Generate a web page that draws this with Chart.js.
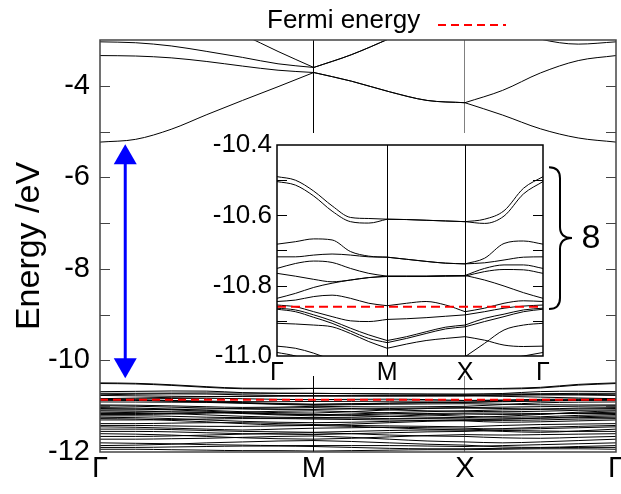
<!DOCTYPE html>
<html>
<head>
<meta charset="utf-8">
<title>Band structure</title>
<script src="https://cdn.jsdelivr.net/npm/chart.js@4.4.1/dist/chart.umd.min.js"></script>
<style>
  html, body { margin: 0; padding: 0; background: #fff; }
  #wrap { position: relative; width: 621px; height: 494px; overflow: hidden; }
  canvas { position: absolute; }
  #main { left: 0; top: 0; }
  #zoomBg { position: absolute; left: 200px; top: 133px; width: 348px; height: 243px; background: #fff; }
  #zoom { left: 198px; top: 118px; }
</style>
</head>
<body>
<div id="wrap">
  <canvas id="main" width="621" height="494"></canvas>
  <div id="zoomBg"></div>
  <canvas id="zoom" width="423" height="275"></canvas>
</div>
<script>
const FONT = "'Liberation Sans', Arial, Helvetica, sans-serif";

// path G-M-X-G, k in units of pi/a (|GM| = sqrt 2)
const pathLabels = ['Γ', 'M', 'X', 'Γ'];
const pathTicks = [0, 1.414, 2.414, 3.414];
const kMesh = [0, 0.236, 0.471, 0.707, 0.943, 1.178, 1.414,
               1.664, 1.914, 2.164, 2.414,
               2.664, 2.914, 3.164, 3.414];
// index ranges of the three path segments in kMesh
const segments = [[0, 6], [6, 10], [10, 14]];

const fermiLevel = -10.86;
const gapK = 0.167, gapTop = -5.28, gapBottom = -10.39;
const braceTop = -10.463, braceBottom = -10.866, braceCount = '8';

// unoccupied bands (eV)
const conductionBands = [
  [-5.23, -5.17, -4.95, -4.63, -4.32, -4.02, -3.71, -3.90, -4.13, -4.32, -4.37, -4.64, -4.94, -5.14, -5.23],
  [-3.34, -3.35, -3.39, -3.47, -3.57, -3.66, -3.71, -3.90, -4.13, -4.32, -4.37, -4.10, -3.72, -3.45, -3.34],
  [-3.04, -3.06, -3.13, -3.25, -3.38, -3.52, -3.60, -3.32, -2.97, -2.60, -2.40, -2.70, -2.98, -3.09, -3.04],
  [-1.80, -2.00, -2.25, -2.55, -2.88, -3.25, -3.60, -3.32, -2.97, -2.60, -2.40, -2.30, -2.10, -1.90, -1.80]
];

// top of the valence manifold, around E_F
const valenceTop = [
  [-10.490, -10.500, -10.531, -10.573, -10.606, -10.609, -10.611, -10.612, -10.614, -10.616, -10.618, -10.611, -10.587, -10.523, -10.490],
  [-10.504, -10.514, -10.545, -10.588, -10.618, -10.622, -10.611, -10.612, -10.614, -10.616, -10.618, -10.623, -10.602, -10.539, -10.504],
  [-10.682, -10.675, -10.667, -10.670, -10.703, -10.716, -10.719, -10.725, -10.731, -10.736, -10.738, -10.722, -10.680, -10.673, -10.682],
  [-10.718, -10.718, -10.713, -10.710, -10.713, -10.718, -10.719, -10.725, -10.731, -10.736, -10.738, -10.735, -10.727, -10.719, -10.718],
  [-10.751, -10.737, -10.730, -10.734, -10.751, -10.765, -10.773, -10.773, -10.773, -10.772, -10.771, -10.751, -10.741, -10.741, -10.751],
  [-10.765, -10.773, -10.782, -10.789, -10.784, -10.777, -10.773, -10.773, -10.773, -10.772, -10.771, -10.784, -10.801, -10.820, -10.836],
  [-10.836, -10.822, -10.805, -10.793, -10.784, -10.777, -10.774, -10.774, -10.774, -10.773, -10.773, -10.760, -10.754, -10.755, -10.765],
  [-10.845, -10.841, -10.831, -10.827, -10.836, -10.850, -10.857, -10.850, -10.845, -10.855, -10.874, -10.864, -10.850, -10.843, -10.845],
  [-10.855, -10.860, -10.874, -10.888, -10.900, -10.902, -10.896, -10.894, -10.891, -10.887, -10.883, -10.874, -10.864, -10.858, -10.855],
  [-10.864, -10.869, -10.883, -10.900, -10.921, -10.940, -10.956, -10.945, -10.931, -10.918, -10.912, -10.893, -10.881, -10.869, -10.864],
  [-10.867, -10.874, -10.890, -10.907, -10.929, -10.950, -10.962, -10.950, -10.936, -10.923, -10.917, -10.902, -10.888, -10.874, -10.867],
  [-10.907, -10.909, -10.912, -10.917, -10.936, -10.959, -10.978, -10.966, -10.956, -10.950, -10.945, -10.955, -10.969, -10.973, -10.972],
  [-10.972, -10.978, -10.992, -11.011, -11.026, -11.021, -11.002, -11.011, -11.016, -11.011, -11.002, -10.964, -10.926, -10.912, -10.907]
];

// deeper valence bands
const valenceDeep = [
  [-10.99, -11.00, -11.02, -11.04, -11.06, -11.07, -11.07, -11.06, -11.05, -11.04, -11.03, -11.02, -11.01, -11.00, -10.99],
  [-11.03, -11.04, -11.06, -11.09, -11.12, -11.14, -11.15, -11.12, -11.08, -11.05, -11.04, -11.05, -11.06, -11.04, -11.03],
  [-11.05, -11.06, -11.08, -11.11, -11.14, -11.17, -11.19, -11.17, -11.14, -11.12, -11.10, -11.08, -11.07, -11.06, -11.05],
  [-11.08, -11.08, -11.07, -11.06, -11.05, -11.04, -11.03, -11.05, -11.08, -11.10, -11.11, -11.12, -11.11, -11.09, -11.08],
  [-11.10, -11.11, -11.12, -11.13, -11.15, -11.17, -11.18, -11.20, -11.22, -11.24, -11.25, -11.22, -11.18, -11.13, -11.10],
  [-11.13, -11.14, -11.16, -11.19, -11.22, -11.24, -11.25, -11.24, -11.22, -11.19, -11.17, -11.18, -11.17, -11.15, -11.13],
  [-11.16, -11.16, -11.15, -11.14, -11.16, -11.19, -11.21, -11.19, -11.17, -11.16, -11.15, -11.15, -11.16, -11.16, -11.16],
  [-11.18, -11.18, -11.17, -11.15, -11.13, -11.11, -11.10, -11.12, -11.15, -11.19, -11.22, -11.24, -11.23, -11.20, -11.18],
  [-11.21, -11.21, -11.22, -11.24, -11.25, -11.26, -11.26, -11.26, -11.27, -11.27, -11.28, -11.28, -11.26, -11.23, -11.21],
  [-11.24, -11.25, -11.27, -11.30, -11.33, -11.35, -11.36, -11.35, -11.33, -11.31, -11.30, -11.28, -11.26, -11.25, -11.24],
  [-11.27, -11.28, -11.31, -11.34, -11.38, -11.41, -11.42, -11.39, -11.36, -11.33, -11.31, -11.31, -11.30, -11.28, -11.27],
  [-11.30, -11.30, -11.29, -11.28, -11.27, -11.27, -11.28, -11.29, -11.30, -11.31, -11.32, -11.35, -11.34, -11.32, -11.30],
  [-11.38, -11.38, -11.37, -11.36, -11.36, -11.38, -11.40, -11.42, -11.43, -11.44, -11.45, -11.42, -11.40, -11.39, -11.38],
  [-11.42, -11.42, -11.43, -11.44, -11.44, -11.43, -11.42, -11.44, -11.47, -11.50, -11.52, -11.49, -11.46, -11.44, -11.42],
  [-11.45, -11.46, -11.48, -11.50, -11.52, -11.50, -11.48, -11.47, -11.46, -11.47, -11.48, -11.50, -11.49, -11.47, -11.45],
  [-11.50, -11.50, -11.51, -11.53, -11.55, -11.56, -11.57, -11.55, -11.53, -11.52, -11.52, -11.55, -11.57, -11.54, -11.50],
  [-11.55, -11.55, -11.56, -11.58, -11.60, -11.61, -11.62, -11.60, -11.58, -11.56, -11.55, -11.53, -11.54, -11.55, -11.55],
  [-11.60, -11.61, -11.63, -11.66, -11.69, -11.71, -11.72, -11.70, -11.67, -11.64, -11.62, -11.63, -11.62, -11.61, -11.60],
  [-11.66, -11.66, -11.65, -11.63, -11.61, -11.59, -11.58, -11.60, -11.63, -11.65, -11.66, -11.69, -11.70, -11.68, -11.66],
  [-11.72, -11.72, -11.71, -11.70, -11.68, -11.66, -11.65, -11.68, -11.72, -11.76, -11.78, -11.80, -11.78, -11.75, -11.72],
  [-11.80, -11.81, -11.82, -11.84, -11.85, -11.86, -11.86, -11.86, -11.86, -11.87, -11.88, -11.86, -11.84, -11.82, -11.80],
  [-11.86, -11.85, -11.83, -11.80, -11.78, -11.76, -11.75, -11.77, -11.80, -11.83, -11.85, -11.89, -11.90, -11.88, -11.86],
  [-11.90, -11.90, -11.89, -11.88, -11.87, -11.87, -11.88, -11.90, -11.92, -11.93, -11.93, -11.92, -11.91, -11.90, -11.90],
  [-11.94, -11.94, -11.95, -11.96, -11.97, -11.97, -11.98, -11.97, -11.96, -11.95, -11.95, -11.94, -11.93, -11.93, -11.94]
];

// one dataset per band per path segment, so the kinks at M and X stay sharp
function bandDatasets(dash) {
  const sets = [{
    data: [{x: pathTicks[0], y: fermiLevel}, {x: pathTicks[3], y: fermiLevel}],
    borderColor: '#ff0000', borderWidth: 2, borderDash: dash, pointRadius: 0
  }];
  [...conductionBands, ...valenceTop, ...valenceDeep].forEach(band => {
    segments.forEach(([a, b]) => {
      const pts = [];
      for (let i = a; i <= b; i++) pts.push({x: kMesh[i], y: band[i]});
      sets.push({data: pts, borderColor: '#000', borderWidth: 1, pointRadius: 0,
                 cubicInterpolationMode: 'monotone'});
    });
  });
  return sets;
}

// box around the plot area plus inward ticks on both sides
const framePlugin = {
  id: 'frame',
  afterDatasetsDraw(chart, args, opts) {
    const {ctx, chartArea: a, scales: {y}} = chart;
    ctx.save();
    ctx.strokeStyle = opts.color;
    ctx.lineWidth = opts.width;
    ctx.strokeRect(a.left, a.top, a.right - a.left, a.bottom - a.top);
    ctx.lineWidth = 1;
    ctx.beginPath();
    y.ticks.forEach(t => {
      const py = Math.round(y.getPixelForValue(t.value)) + 0.5;
      if (py < a.top + 2 || py > a.bottom - 2) return;
      ctx.moveTo(a.left, py); ctx.lineTo(a.left + opts.tick, py);
      ctx.moveTo(a.right, py); ctx.lineTo(a.right - opts.tick, py);
    });
    ctx.stroke();
    ctx.restore();
  }
};

// gap arrow and the Fermi level key
const mainExtras = {
  id: 'mainExtras',
  afterDraw(chart) {
    const {ctx, scales: {x, y}} = chart;
    ctx.save();
    const ax = x.getPixelForValue(gapK);
    const y1 = y.getPixelForValue(gapTop), y2 = y.getPixelForValue(gapBottom);
    ctx.strokeStyle = ctx.fillStyle = '#0000ff';
    ctx.lineWidth = 3;
    ctx.beginPath(); ctx.moveTo(ax, y1 + 18); ctx.lineTo(ax, y2 - 18); ctx.stroke();
    ctx.beginPath(); ctx.moveTo(ax, y1); ctx.lineTo(ax - 11.5, y1 + 20); ctx.lineTo(ax + 11.5, y1 + 20); ctx.closePath(); ctx.fill();
    ctx.beginPath(); ctx.moveTo(ax, y2); ctx.lineTo(ax - 11.5, y2 - 20); ctx.lineTo(ax + 11.5, y2 - 20); ctx.closePath(); ctx.fill();

    ctx.fillStyle = '#000';
    ctx.font = '26px ' + FONT;
    ctx.textBaseline = 'alphabetic';
    ctx.fillText('Fermi energy', 267, 28);
    ctx.strokeStyle = '#ff0000';
    ctx.lineWidth = 2;
    ctx.setLineDash([8, 5]);
    ctx.beginPath(); ctx.moveTo(438, 25); ctx.lineTo(506, 25); ctx.stroke();
    ctx.restore();
  }
};

// curly brace grouping the bands between the valence top and E_F
const zoomExtras = {
  id: 'zoomExtras',
  afterDraw(chart) {
    const {ctx, chartArea: a, scales: {y}} = chart;
    const t = y.getPixelForValue(braceTop), b = y.getPixelForValue(braceBottom);
    const m = (t + b) / 2, x0 = a.right + 6, x1 = a.right + 17, x2 = a.right + 29;
    ctx.save();
    ctx.strokeStyle = '#000';
    ctx.lineWidth = 2;
    ctx.beginPath();
    ctx.moveTo(x0, t);
    ctx.quadraticCurveTo(x1, t, x1, t + 11);
    ctx.lineTo(x1, m - 11);
    ctx.quadraticCurveTo(x1, m, x2, m);
    ctx.quadraticCurveTo(x1, m, x1, m + 11);
    ctx.lineTo(x1, b - 11);
    ctx.quadraticCurveTo(x1, b, x0, b);
    ctx.stroke();
    ctx.fillStyle = '#000';
    ctx.font = '34px ' + FONT;
    ctx.textAlign = 'center';
    ctx.textBaseline = 'middle';
    ctx.fillText(braceCount, x2 + 19, m + 1);
    ctx.restore();
  }
};

function pathAxis(height, size, pad, gridColor) {
  return {
    type: 'linear', min: pathTicks[0], max: pathTicks[3],
    afterBuildTicks: s => { s.ticks = pathTicks.map(v => ({value: v})); },
    afterFit: s => { s.height = height; s.paddingLeft = 0; s.paddingRight = 0; },
    border: {display: false},
    grid: {drawTicks: false, lineWidth: 1, color: gridColor},
    ticks: {callback: (v, i) => pathLabels[i], autoSkip: false, maxRotation: 0,
            padding: pad, color: '#000', font: {family: FONT, size: size}}
  };
}

new Chart(document.getElementById('main'), {
  type: 'line',
  data: {datasets: bandDatasets([8, 5])},
  options: {
    responsive: false, animation: false, events: [],
    layout: {padding: {top: 40, right: 5, left: 0, bottom: 0}},
    plugins: {legend: {display: false}, tooltip: {enabled: false},
              frame: {color: '#444', width: 1.5, tick: 10}},
    scales: {
      x: pathAxis(42, 29, 0, c => c.tick.value === pathTicks[1] ? '#000' : (c.tick.value === pathTicks[2] ? '#808080' : 'rgba(0,0,0,0)')),
      y: {
        min: -12, max: -3,
        afterFit: s => { s.width = 100; s.paddingTop = 0; s.paddingBottom = 0; },
        border: {display: false},
        grid: {display: false, drawTicks: false},
        ticks: {stepSize: 1, padding: 10, color: '#000', font: {family: FONT, size: 29},
                callback: v => (Math.round(v) % 2 === 0 ? String(v) : '')},
        title: {display: true, text: 'Energy /eV', color: '#000', padding: {top: 9, bottom: 0},
                font: {family: FONT, size: 34}}
      }
    }
  },
  plugins: [framePlugin, mainExtras]
});

new Chart(document.getElementById('zoom'), {
  type: 'line',
  data: {datasets: bandDatasets([9, 5])},
  options: {
    responsive: false, animation: false, events: [],
    layout: {padding: {top: 27, right: 78, left: 0, bottom: 0}},
    plugins: {legend: {display: false}, tooltip: {enabled: false},
              frame: {color: '#000', width: 1.5, tick: 10}},
    scales: {
      x: pathAxis(37, 25, 2, c => (c.tick.value === pathTicks[1] || c.tick.value === pathTicks[2]) ? '#000' : 'rgba(0,0,0,0)'),
      y: {
        min: -11, max: -10.4,
        afterFit: s => { s.width = 79; s.paddingTop = 0; s.paddingBottom = 0; },
        border: {display: false},
        grid: {display: false, drawTicks: false},
        ticks: {stepSize: 0.1, padding: 5, color: '#000', font: {family: FONT, size: 26},
                callback: v => (Math.round(v * 10) % 2 === 0 ? v.toFixed(1) : '')}
      }
    }
  },
  plugins: [framePlugin, zoomExtras]
});
</script>
</body>
</html>
